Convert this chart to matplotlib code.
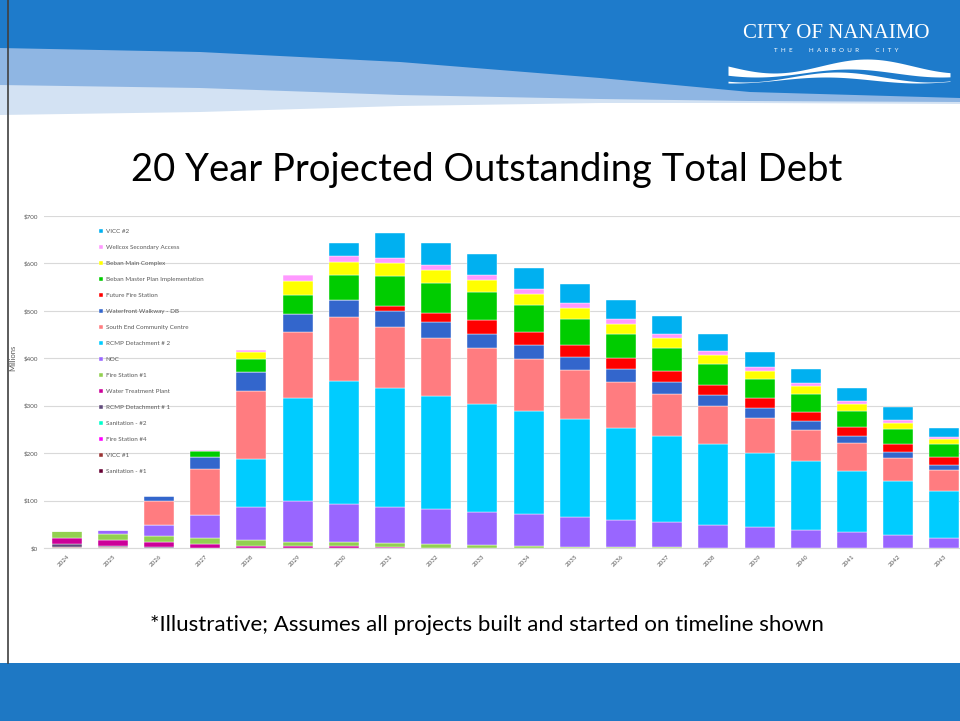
import numpy as np
import matplotlib
matplotlib.use('Agg')
import matplotlib.pyplot as plt
from matplotlib.patches import Polygon, Rectangle

plt.rcParams['font.family'] = ['Lato', 'DejaVu Sans']

# data, $ millions
years = [str(y) for y in range(2024, 2044)]

sanitation_1 = [1.0, 0.8, 0.2, 0, 0, 0, 0, 0, 0, 0, 0, 0, 0, 0, 0, 0, 0, 0, 0, 0]
vicc_1 = [1.2, 0.8, 0.2, 0, 0, 0, 0, 0, 0, 0, 0, 0, 0, 0, 0, 0, 0, 0, 0, 0]
fire_station_4 = [0.3, 0.2, 0, 0, 0, 0, 0, 0, 0, 0, 0, 0, 0, 0, 0, 0, 0, 0, 0, 0]
sanitation_2 = [0.3, 0.2, 0, 0, 0, 0, 0, 0, 0, 0, 0, 0, 0, 0, 0, 0, 0, 0, 0, 0]
rcmp_1 = [5.5, 2.8, 1.7, 0.5, 0, 0, 0, 0, 0, 0, 0, 0, 0, 0, 0, 0, 0, 0, 0, 0]
water_plant = [12.5, 11.3, 9.5, 8.5, 5, 4.5, 4, 3, 1, 0, 0, 0, 0, 0, 0, 0, 0, 0, 0, 0]
fire_station_1 = [15, 14, 13.5, 12, 12, 9, 8, 7, 7.5, 5.6, 4.2, 2.8, 2, 1.4, 0.7, 0, 0, 0, 0, 0]
noc = [0, 7.7, 23, 48, 70, 85, 81, 77.5, 74.6, 70, 67, 62.6, 58, 53.4, 48, 44, 39, 33, 27, 22]
rcmp_2 = [0, 0, 0, 0, 100, 218, 260, 249, 238, 228.4, 218, 206, 194, 182, 170, 157, 144, 130, 114, 99]
south_end = [0, 0, 50, 98, 145, 139, 134, 129, 121.5, 116.7, 109, 103, 96, 88.6, 81, 74, 66, 58, 49, 43]
waterfront = [0, 0, 11, 25, 39, 37, 35, 34, 34, 31, 29.5, 28, 27, 24.6, 22, 20, 18, 16, 13, 11]
future_fire = [0, 0, 0, 0, 0, 0, 0, 10, 19, 29, 27.4, 26, 24, 24, 22.5, 21, 20, 18, 17, 16]
beban_master = [0, 0, 0, 13, 28, 40, 54, 65, 63, 59, 57, 55, 51, 48, 44, 40, 37, 33, 30, 28]
beban_main = [0, 0, 0, 0, 14, 30, 28, 27, 27, 25, 24, 22, 21, 20, 19, 18, 17, 15, 14, 10]
wellcox = [0, 0, 0, 1, 3.5, 14, 12, 11, 11, 11, 10.5, 10.5, 9, 8.4, 8.4, 8, 7.5, 7, 6.5, 5]
vicc_2 = [0, 0, 0, 0, 0, 0, 27, 51, 47, 45, 44, 41.5, 40, 38, 35, 32, 29, 27, 27, 20]

# bottom to top
series = [
    ('Sanitation - #1', sanitation_1, '#660033'),
    ('VICC #1', vicc_1, '#993333'),
    ('Fire Station #4', fire_station_4, '#FF00FF'),
    ('Sanitation - #2', sanitation_2, '#00FFCC'),
    ('RCMP Detachment # 1', rcmp_1, '#604A7B'),
    ('Water Treatment Plant', water_plant, '#CC0099'),
    ('Fire Station #1', fire_station_1, '#92D050'),
    ('NOC', noc, '#9966FF'),
    ('RCMP Detachment # 2', rcmp_2, '#00CCFF'),
    ('South End Community Centre', south_end, '#FF7C80'),
    ('Waterfront Walkway - DB', waterfront, '#3366CC'),
    ('Future Fire Station', future_fire, '#FF0000'),
    ('Beban Master Plan Implementation', beban_master, '#00CC00'),
    ('Beban Main Complex', beban_main, '#FFFF00'),
    ('Wellcox Secondary Access', wellcox, '#FF99FF'),
    ('VICC #2', vicc_2, '#00B0F0'),
]

W, H = 960, 721
fig = plt.figure(figsize=(9.6, 7.21), dpi=100)

# slide background / decoration
bg = fig.add_axes([0, 0, 1, 1])
bg.set_xlim(0, W)
bg.set_ylim(H, 0)
bg.axis('off')

top_x = [0, 200, 400, 600, 750, 960]
dark_edge = [48, 52, 62, 78, 92, 98]
mid_edge = [85, 88, 95, 99, 101, 102]
light_edge = [115, 112, 106, 103, 103, 104]
bg.add_patch(Polygon([(0, 0), (W, 0)] + list(zip(top_x[::-1], light_edge[::-1])),
                     closed=True, fc='#D3E2F3', ec='none'))
bg.add_patch(Polygon([(0, 0), (W, 0)] + list(zip(top_x[::-1], mid_edge[::-1])),
                     closed=True, fc='#8FB6E3', ec='none'))
bg.add_patch(Polygon([(0, 0), (W, 0)] + list(zip(top_x[::-1], dark_edge[::-1])),
                     closed=True, fc='#1E7BCB', ec='none'))
bg.add_patch(Rectangle((0, 663), W, H - 663, fc='#1E78C4', ec='none'))
bg.plot([8, 8], [0, 663], color='#404040', lw=1.2)

# logo
bg.text(836, 34, 'CITY OF NANAIMO', color='white', fontsize=15,
        family=['Liberation Serif', 'DejaVu Serif'], ha='center', va='center')
bg.text(836, 50, 'T  H  E          H  A  R  B  O  U  R          C  I  T  Y',
        color='white', fontsize=4.5, ha='center', va='center')
wx = np.linspace(728, 950, 60)
bg.fill_between(wx, 66 + 7 * np.sin((wx - 728) / 222 * 2.4 * np.pi),
                73 + 4 * np.sin((wx - 728) / 222 * 2.4 * np.pi + 0.6),
                color='white', lw=0)
bg.fill_between(wx, 77 + 5 * np.sin((wx - 728) / 222 * 2.4 * np.pi + 1.0),
                80 + 3 * np.sin((wx - 728) / 222 * 2.4 * np.pi + 1.4),
                color='white', lw=0)

bg.text(487, 170, '20 Year Projected Outstanding Total Debt', fontsize=27.5,
        ha='center', va='center', color='black')
bg.text(487, 625, '*Illustrative; Assumes all projects built and started on timeline shown',
        fontsize=16, ha='center', va='center', color='black')
bg.text(13, 358, 'Millions', rotation=90, fontsize=5.5, color='#595959',
        ha='center', va='center')

# chart
ax = fig.add_axes([43.6 / W, (H - 548) / H, 916 / W, 332 / H])
ax.patch.set_alpha(0)
x = np.arange(len(years))
bottom = np.zeros(len(years))
handles = []
for name, vals, col in series:
    vals = np.array(vals, dtype=float)
    b = ax.bar(x, vals, 0.65, bottom=bottom, color=col, edgecolor='white',
               linewidth=0.3, label=name, zorder=3)
    handles.append(b)
    bottom += vals

ax.set_xlim(-0.5, 19.33)
ax.set_ylim(0, 700)
ax.set_yticks(range(0, 701, 100))
ax.set_yticklabels(['$' + str(v) for v in range(0, 701, 100)])
ax.set_xticks(x)
ax.set_xticklabels(years, rotation=45, ha='right', rotation_mode='anchor')
ax.tick_params(axis='both', length=0, labelsize=4.5, labelcolor='#595959')
ax.tick_params(axis='y', pad=4)
ax.tick_params(axis='x', pad=4)
ax.grid(axis='y', color='#D9D9D9', lw=0.8, zorder=0)
for s in ['top', 'right', 'left']:
    ax.spines[s].set_visible(False)
ax.spines['bottom'].set_color('#D9D9D9')

leg = ax.legend(handles[::-1], [s[0] for s in series][::-1], loc='upper left',
                bbox_to_anchor=(99 / W, 1 - 229 / H), bbox_transform=fig.transFigure,
                frameon=False, fontsize=4.5, handlelength=0.7, handleheight=0.7,
                handletextpad=0.4, labelspacing=1.7, borderpad=0, borderaxespad=0)
for t in leg.get_texts():
    t.set_color('#595959')

fig.savefig('out.png', dpi=100)
